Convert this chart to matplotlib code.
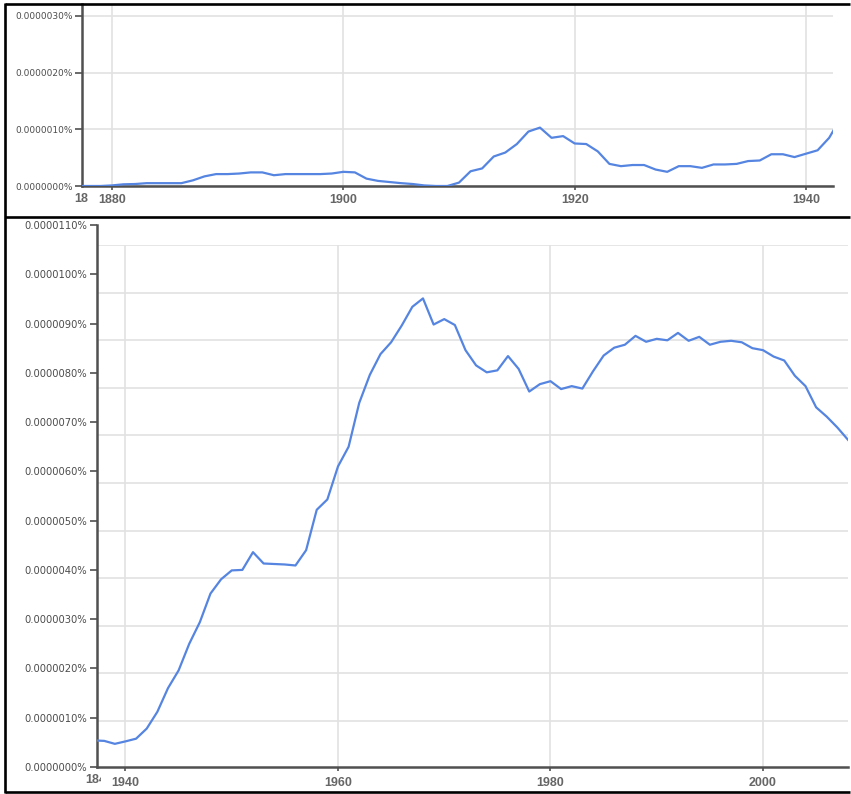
import matplotlib
matplotlib.use("Agg")
import matplotlib.pyplot as plt
from matplotlib.transforms import Bbox
import numpy as np

plt.rcParams['font.family'] = ['Liberation Sans', 'DejaVu Sans']

# ---------------- data (values in units of 1e-6 %) ----------------
years_top = list(range(1877, 1944))
values_top = [0.0, 0.0, 0.0, 0.01, 0.03, 0.035, 0.05, 0.05, 0.05, 0.05,
              0.10, 0.17, 0.21, 0.21, 0.22, 0.24, 0.24, 0.19, 0.21, 0.21,
              0.21, 0.21, 0.22, 0.25, 0.24, 0.13, 0.09, 0.07, 0.05, 0.035,
              0.01, 0.0, 0.0, 0.06, 0.26, 0.31, 0.52, 0.59, 0.74, 0.96,
              1.03, 0.85, 0.88, 0.75, 0.74, 0.61, 0.39, 0.35, 0.37, 0.37,
              0.29, 0.25, 0.35, 0.35, 0.32, 0.38, 0.38, 0.39, 0.44, 0.45,
              0.56, 0.56, 0.51, 0.57, 0.63, 0.85, 1.20]

years_bottom = list(range(1937, 2009))
values_bottom = [0.54, 0.53, 0.47, 0.52, 0.575, 0.78, 1.12, 1.60, 1.96, 2.50,
                 2.94, 3.52, 3.81, 3.99, 4.00, 4.36, 4.13, 4.12, 4.11, 4.09,
                 4.40, 5.22, 5.43, 6.10, 6.50, 7.39, 7.96, 8.38, 8.62, 8.96,
                 9.34, 9.51, 8.98, 9.09, 8.97, 8.46, 8.15, 8.01, 8.05, 8.34,
                 8.08, 7.62, 7.77, 7.83, 7.67, 7.73, 7.68, 8.03, 8.35, 8.51,
                 8.57, 8.75, 8.63, 8.69, 8.66, 8.81, 8.65, 8.73, 8.57, 8.63,
                 8.65, 8.62, 8.50, 8.46, 8.33, 8.25, 7.94, 7.73, 7.30, 7.11,
                 6.89, 6.64]

xticks_top = [1880, 1900, 1920, 1940]
yticks_top = [0, 1, 2, 3]
xticks_bottom = [1940, 1960, 1980, 2000]
yticks_bottom = list(range(0, 12))

# ---------------- layout ----------------
W, H = 851, 794
fig = plt.figure(figsize=(W / 100, H / 100), dpi=100)
fig.patch.set_facecolor('white')

def rect(l, t, r, b):
    return [l / W, 1 - b / H, (r - l) / W, (b - t) / H]

LINE = '#5585e0'
AXC = '#505050'
GRID = '#e2e2e2'
XLBL = '#666666'
YLBL = '#4d4d4d'

def pct(v):
    return f"{v * 1e-6:.7f}%"

# ---------------- top chart ----------------
ax1 = fig.add_axes(rect(82, 4, 833, 186))
ax1.plot(years_top, values_top, color=LINE, lw=1.6, solid_joinstyle='round', zorder=3)
ax1.set_xlim(1877.41, 1942.33)
ax1.set_ylim(0, 3.21)
ax1.set_xticks(xticks_top)
ax1.set_xticklabels([str(y) for y in xticks_top], fontweight='bold')
ax1.set_yticks(yticks_top)
ax1.set_yticklabels([pct(v) for v in yticks_top])
for s in ['top', 'right']:
    ax1.spines[s].set_visible(False)
for s in ['left', 'bottom']:
    ax1.spines[s].set_color(AXC)
    ax1.spines[s].set_linewidth(1.8)
ax1.grid(True, color=GRID, lw=1.2, zorder=0)
ax1.tick_params(axis='x', length=3, width=1.2, color=AXC, pad=3,
                labelsize=9, labelcolor=XLBL)
ax1.tick_params(axis='y', length=5, width=1.2, color=AXC, pad=1.5,
                labelsize=6.5, labelcolor=YLBL)
for t in ax1.get_yticklabels():
    t.set_fontfamily('DejaVu Sans')

# ---------------- bottom chart ----------------
# grid layer (the plot area behind the axis overlay)
axg = fig.add_axes(rect(97, 245, 848, 768.6))
axg.set_xlim(1937.32, 2008.0)
axg.set_ylim(0, 11)
axg.set_xticks(xticks_bottom)
axg.set_yticks(list(range(1, 12)))
axg.grid(True, color=GRID, lw=1.2)
axg.tick_params(length=0, labelbottom=False, labelleft=False)
for s in axg.spines.values():
    s.set_visible(False)

ax2 = fig.add_axes(rect(97, 225, 848, 767))
ax2.patch.set_alpha(0)
ax2.plot(years_bottom, values_bottom, color=LINE, lw=1.6, solid_joinstyle='round', zorder=3)
ax2.set_xlim(1937.32, 2008.0)
ax2.set_ylim(0, 11)
ax2.set_xticks(xticks_bottom)
ax2.set_xticklabels([str(y) for y in xticks_bottom], fontweight='bold')
ax2.set_yticks(yticks_bottom)
ax2.set_yticklabels([pct(v) for v in yticks_bottom])
for s in ['top', 'right']:
    ax2.spines[s].set_visible(False)
for s in ['left', 'bottom']:
    ax2.spines[s].set_color(AXC)
    ax2.spines[s].set_linewidth(1.8)
ax2.tick_params(axis='x', length=3, width=1.2, color=AXC, pad=4,
                labelsize=9, labelcolor=XLBL)
ax2.tick_params(axis='y', length=5, width=1.2, color=AXC, pad=2,
                labelsize=7.2, labelcolor=YLBL)
for t in ax2.get_yticklabels():
    t.set_fontfamily('DejaVu Sans')

# ---------------- overlay: frame lines and cut-off labels ----------------
ov = fig.add_axes([0, 0, 1, 1])
ov.set_xlim(0, W)
ov.set_ylim(H, 0)
ov.axis('off')
ov.patch.set_alpha(0)
ov.plot([5, 850], [3.8, 3.8], color='black', lw=1.9, solid_capstyle='butt')
ov.plot([5, 850], [217, 217], color='black', lw=1.9, solid_capstyle='butt')
ov.plot([5, 850], [791.5, 791.5], color='black', lw=1.9, solid_capstyle='butt')
ov.plot([5, 5], [3, 792.5], color='black', lw=1.9, solid_capstyle='butt')

ov.text(81.5, 199, '18', ha='center', va='center', fontsize=9,
        fontweight='bold', color=XLBL)
t = ov.text(85, 780, '1840', ha='left', va='center', fontsize=9,
            fontweight='bold', color=XLBL)
fig.canvas.draw()
(x0, y0), (x1, y1) = ov.transData.transform([(0, H), (101, 0)])
t.set_clip_box(Bbox.from_extents(x0, y0, x1, y1))
t.set_clip_on(True)

fig.savefig('out.png', dpi=100, facecolor='white')
